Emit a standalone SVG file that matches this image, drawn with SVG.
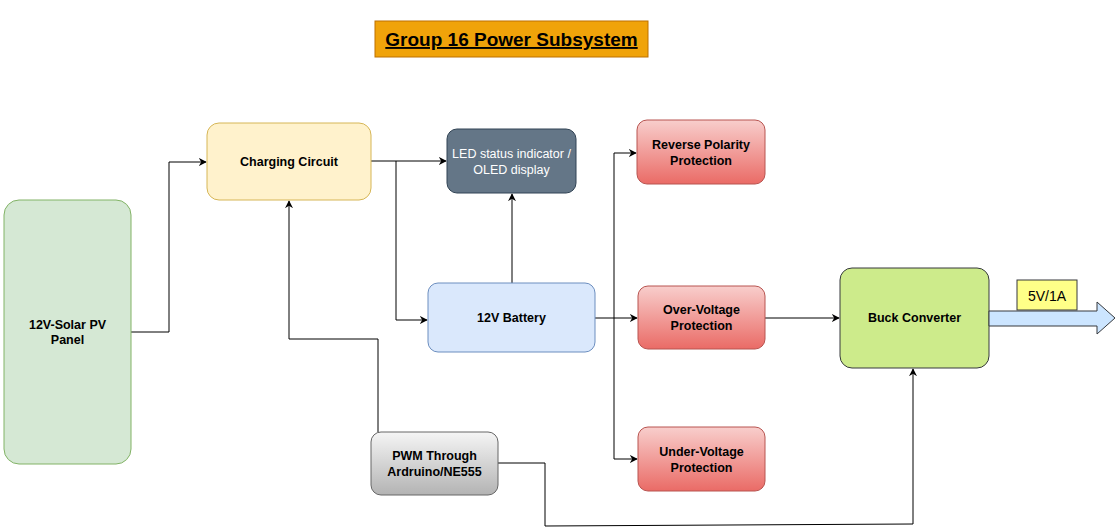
<svg xmlns="http://www.w3.org/2000/svg" width="1117" height="532" viewBox="0 0 1117 532">
<style>
text{font-family:"Liberation Sans",Arial,sans-serif;font-size:12.5px;text-anchor:middle;fill:#000}
.b{font-weight:bold}
.w{fill:#ffffff}
.c{fill:none;stroke:#000;stroke-width:1}
.red{fill:url(#gr);stroke:#b85450}
</style>
<defs>
<linearGradient id="gr" x1="0" y1="0" x2="0" y2="1"><stop offset="0" stop-color="#f8cecc"/><stop offset="1" stop-color="#ea6b66"/></linearGradient>
<linearGradient id="gg" x1="0" y1="0" x2="0" y2="1"><stop offset="0" stop-color="#f5f5f5"/><stop offset="1" stop-color="#b3b3b3"/></linearGradient>
<marker id="a" viewBox="0 0 10 10" refX="9" refY="5" markerWidth="8" markerHeight="8" orient="auto" markerUnits="userSpaceOnUse"><path d="M0,0 L10,5 L0,10 L3,5 Z" fill="#000"/></marker>
</defs>
<rect width="1117" height="532" fill="#fff"/>
<g id="title">
<rect x="375" y="21" width="273" height="36" fill="#f0a30a" stroke="#bd7000"/>
<text x="511.5" y="46" class="b" style="font-size:19px;text-decoration:underline">Group 16 Power Subsystem</text>
</g>
<g id="connectors">
<polyline class="c" points="131,332 169,332 169,162 206,162" marker-end="url(#a)"/>
<polyline class="c" points="371,161 446,161" marker-end="url(#a)"/>
<polyline class="c" points="396,161 396,320 427,320" marker-end="url(#a)"/>
<polyline class="c" points="512,283 512,194" marker-end="url(#a)"/>
<polyline class="c" points="595,318 614,318"/>
<polyline class="c" points="614,318 614,153 636,153" marker-end="url(#a)"/>
<polyline class="c" points="614,318 637,318" marker-end="url(#a)"/>
<polyline class="c" points="614,318 614,459 637,459" marker-end="url(#a)"/>
<polyline class="c" points="765,318 839,318" marker-end="url(#a)"/>
<polyline class="c" points="378,432 378,339 289,339 289,201" marker-end="url(#a)"/>
<polyline class="c" points="498,463 545,463 545,526 913,524 913,369" marker-end="url(#a)"/>
</g>
<g id="solar">
<rect x="4" y="200" width="127" height="264" rx="15" fill="#d5e8d4" stroke="#82b366"/>
<text x="67.5" y="329" class="b">12V-Solar PV</text>
<text x="67.5" y="344" class="b">Panel</text>
</g>
<g id="charging">
<rect x="207" y="123" width="164" height="77" rx="12" fill="#fff2cc" stroke="#d6b656"/>
<text x="289" y="166" class="b">Charging Circuit</text>
</g>
<g id="led">
<rect x="447" y="129" width="129" height="64" rx="10" fill="#647687" stroke="#314354"/>
<text x="511.5" y="158" class="w">LED status indicator /</text>
<text x="511.5" y="174" class="w">OLED display</text>
</g>
<g id="battery">
<rect x="428" y="283" width="167" height="69" rx="10" fill="#dae8fc" stroke="#6c8ebf"/>
<text x="511.5" y="322" class="b">12V Battery</text>
</g>
<g id="reverse">
<rect x="637" y="120" width="128" height="64" rx="10" class="red"/>
<text x="701" y="149" class="b">Reverse Polarity</text>
<text x="701" y="165" class="b">Protection</text>
</g>
<g id="over">
<rect x="638" y="286" width="127" height="63" rx="10" class="red"/>
<text x="701.5" y="314" class="b">Over-Voltage</text>
<text x="701.5" y="330" class="b">Protection</text>
</g>
<g id="under">
<rect x="638" y="427" width="127" height="64" rx="10" class="red"/>
<text x="701.5" y="456" class="b">Under-Voltage</text>
<text x="701.5" y="472" class="b">Protection</text>
</g>
<g id="buck">
<rect x="840" y="268" width="149" height="100" rx="12" fill="#cdeb8b" stroke="#36393d"/>
<text x="914.5" y="322" class="b">Buck Converter</text>
</g>
<g id="pwm">
<rect x="371" y="432" width="127" height="63" rx="10" fill="url(#gg)" stroke="#666666"/>
<text x="434.5" y="460" class="b">PWM Through</text>
<text x="434.5" y="476" class="b">Ardruino/NE555</text>
</g>
<g id="output">
<polygon points="989,311 1097,311 1097,302 1115,318 1097,334 1097,326 989,326" fill="#cce5ff" stroke="#36393d"/>
<rect x="1017" y="280" width="60" height="30" fill="#ffff88" stroke="#36393d"/>
<text x="1047" y="301" style="font-size:14px">5V/1A</text>
</g>
</svg>
